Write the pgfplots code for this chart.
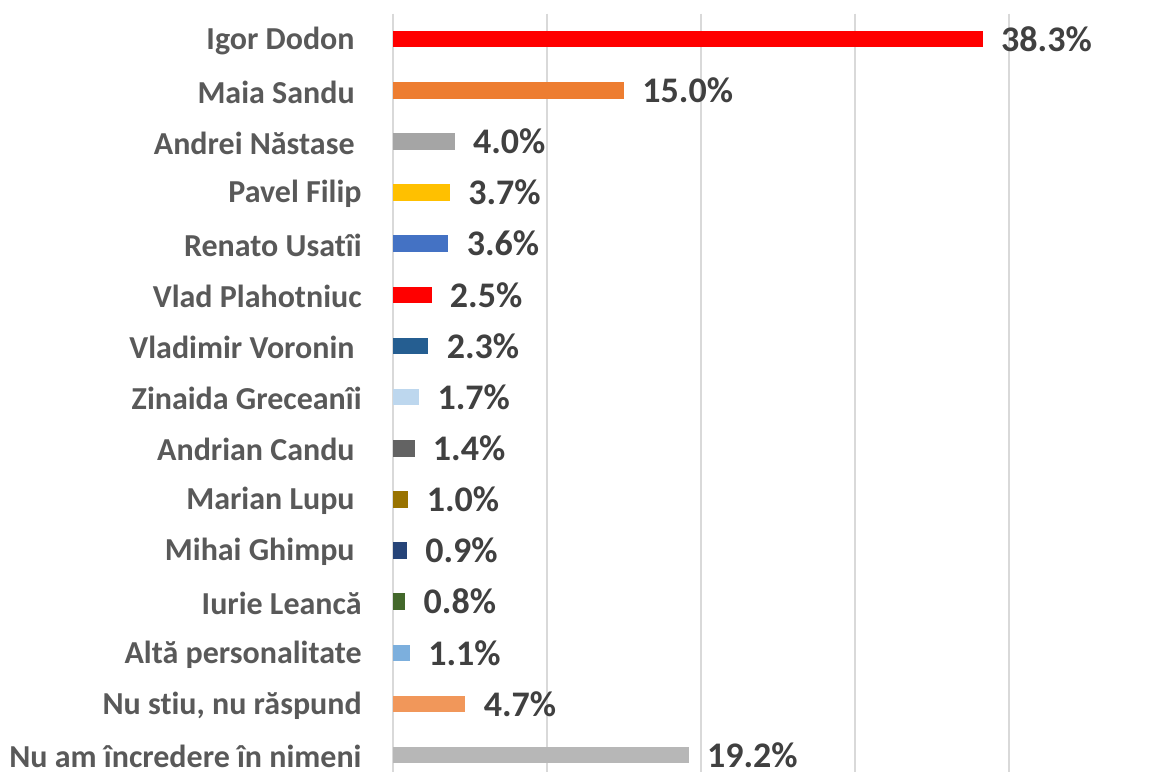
\documentclass[border=0pt]{standalone}
\usepackage{pgfplots}
\pgfplotsset{compat=1.18}
\usepackage{fontspec}
\setmainfont[Ligatures=NoCommon]{Carlito}
\definecolor{cA}{HTML}{FF0000}
\definecolor{cB}{HTML}{ED7D31}
\definecolor{cC}{HTML}{A5A5A5}
\definecolor{cD}{HTML}{FFC000}
\definecolor{cE}{HTML}{4472C4}
\definecolor{cF}{HTML}{FF0000}
\definecolor{cG}{HTML}{255E91}
\definecolor{cH}{HTML}{BDD7EE}
\definecolor{cI}{HTML}{636363}
\definecolor{cJ}{HTML}{997300}
\definecolor{cK}{HTML}{264478}
\definecolor{cL}{HTML}{43682B}
\definecolor{cM}{HTML}{7CAFDD}
\definecolor{cN}{HTML}{F1975A}
\definecolor{cO}{HTML}{B7B7B7}
\definecolor{gridc}{HTML}{D9D9D9}
\definecolor{labc}{HTML}{595959}
\definecolor{valc}{HTML}{404040}
\newcommand{\tsp}{\rule{3.5pt}{0pt}}
\begin{document}
\begin{tikzpicture}
\path[use as bounding box] (0,0) rectangle (575pt,387pt);
\begin{axis}[
  at={(196.5pt,1pt)}, anchor=south west, scale only axis,
  width=308pt, height=379.2pt,
  xbar, bar width=8.3pt, bar shift=0pt,
  xmin=0, xmax=40, ymin=-0.5, ymax=14.33, y dir=reverse,
  axis line style={draw=none},
  xtick={0,10,20,30,40}, xticklabels={},
  xmajorgrids, grid style={draw=gridc, line width=1.2pt},
  major tick length=0pt,
  ytick={0,...,14},
  yticklabels={Igor Dodon\tsp, Maia Sandu\tsp, Andrei Năstase\tsp, Pavel Filip, Renato Usatîi, Vlad Plahotniuc, Vladimir Voronin\tsp, Zinaida Greceanîi, Andrian Candu\tsp, Marian Lupu\tsp, Mihai Ghimpu\tsp, Iurie Leancă, Altă personalitate, {Nu stiu, nu răspund}, Nu am încredere în nimeni},
  yticklabel style={font=\fontsize{16pt}{18pt}\selectfont\bfseries, color=labc, anchor=east, inner sep=0pt, xshift=-15.5pt, yshift=-0.8pt},
  /pgf/number format/assume math mode=true,
  nodes near coords={\pgfmathprintnumber[fixed,fixed zerofill,precision=1]{\pgfplotspointmeta}\%},
  nodes near coords style={font=\fontsize{18pt}{20pt}\selectfont\bfseries, color=valc, anchor=west, inner sep=0pt, xshift=9pt},
  every axis plot/.append style={draw=none},
]
\addplot[fill=cA] coordinates {(38.3,0)};
\addplot[fill=cB] coordinates {(15.0,1)};
\addplot[fill=cC] coordinates {(4.0,2)};
\addplot[fill=cD] coordinates {(3.7,3)};
\addplot[fill=cE] coordinates {(3.6,4)};
\addplot[fill=cF] coordinates {(2.5,5)};
\addplot[fill=cG] coordinates {(2.3,6)};
\addplot[fill=cH] coordinates {(1.7,7)};
\addplot[fill=cI] coordinates {(1.4,8)};
\addplot[fill=cJ] coordinates {(1.0,9)};
\addplot[fill=cK] coordinates {(0.9,10)};
\addplot[fill=cL] coordinates {(0.8,11)};
\addplot[fill=cM] coordinates {(1.1,12)};
\addplot[fill=cN] coordinates {(4.7,13)};
\addplot[fill=cO] coordinates {(19.2,14)};
\end{axis}
\end{tikzpicture}
\end{document}
